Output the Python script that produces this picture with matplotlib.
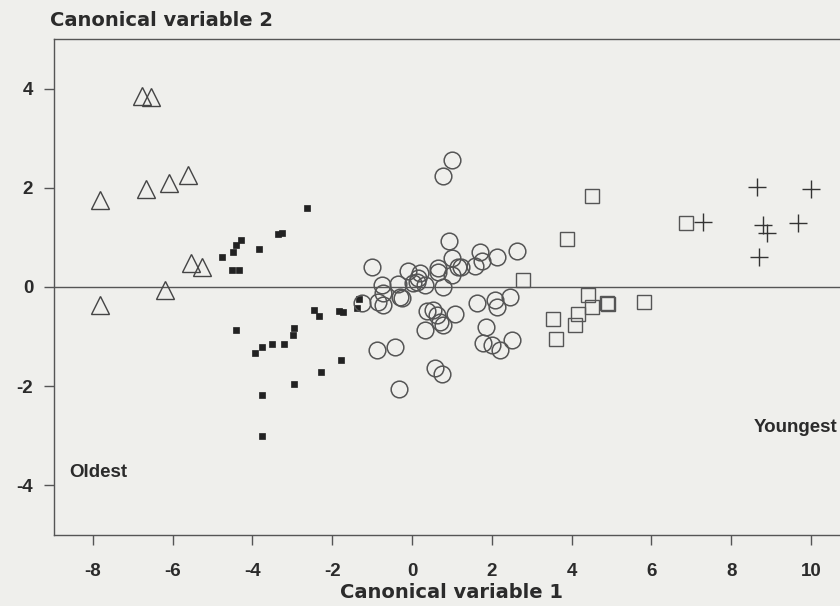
import numpy as np
import matplotlib
matplotlib.use("Agg")
import matplotlib.pyplot as plt

# Data (canonical variable 1, canonical variable 2)
# Oldest group - open triangles
tri_x = [-6.77, -6.54, -7.82, -6.67, -6.09, -5.61, -5.54, -5.26, -6.19, -7.82]
tri_y = [3.86, 3.84, 1.75, 1.97, 2.09, 2.25, 0.48, 0.40, -0.06, -0.36]

# small filled squares
dot_x = [-2.62, -3.37, -3.27, -4.29, -4.42, -4.48, -3.83, -4.75, -4.52, -4.34,
         -1.32, -1.39, -2.46, -2.32, -1.84, -1.74, -4.42, -2.96, -2.97, -3.21,
         -3.51, -3.77, -3.93, -1.77, -2.28, -2.96, -3.77, -3.75]
dot_y = [1.60, 1.06, 1.09, 0.95, 0.85, 0.71, 0.76, 0.60, 0.34, 0.34,
         -0.25, -0.43, -0.46, -0.58, -0.48, -0.50, -0.87, -0.82, -0.97, -1.15,
         -1.15, -1.21, -1.34, -1.48, -1.72, -1.95, -2.17, -3.00]

# open circles
circ_x = [0.99, 0.78, 0.93, 0.99, 1.70, 1.75, 2.12, 2.64, 1.23, 1.57,
          0.99, 0.64, 0.66, -0.09, 0.20, 0.16, 0.03, 0.12, 0.33, 0.78,
          -0.30, -0.26, 0.37, 0.53, 0.62, 1.08, 0.70, 0.78, 0.33, 1.62,
          2.08, 2.12, 2.46, 1.85, 1.79, 2.00, 2.21, 2.50, 0.58, 0.74,
          -0.32, -0.88, -0.43, -1.01, -0.76, -0.34, -0.72, -1.26, -0.84, -0.72,
          1.15]
circ_y = [2.56, 2.24, 0.93, 0.59, 0.71, 0.53, 0.61, 0.73, 0.41, 0.42,
          0.24, 0.38, 0.31, 0.33, 0.28, 0.18, 0.07, 0.10, 0.04, -0.01,
          -0.20, -0.23, -0.49, -0.46, -0.56, -0.54, -0.70, -0.76, -0.87, -0.33,
          -0.27, -0.41, -0.20, -0.80, -1.13, -1.17, -1.27, -1.07, -1.64, -1.75,
          -2.06, -1.27, -1.22, 0.40, 0.04, 0.06, -0.13, -0.33, -0.30, -0.36,
          0.41]

# open squares
sq_x = [4.50, 3.88, 6.86, 2.79, 4.42, 4.50, 4.17, 4.88, 4.90, 5.82, 3.54, 4.09, 3.60]
sq_y = [1.84, 0.96, 1.29, 0.14, -0.17, -0.41, -0.54, -0.32, -0.35, -0.31, -0.65, -0.76, -1.05]

# Youngest group - plus signs
plus_x = [8.64, 9.99, 7.29, 8.80, 8.89, 9.68, 8.70]
plus_y = [2.02, 1.97, 1.31, 1.25, 1.09, 1.28, 0.61]

xticks = [-8, -6, -4, -2, 0, 2, 4, 6, 8, 10]
yticks = [-4, -2, 0, 2, 4]

ink = '#2b2b2b'
paper = '#efefec'
plt.rcParams['font.family'] = ['Liberation Sans', 'DejaVu Sans']
plt.rcParams['axes.unicode_minus'] = False

fig = plt.figure(figsize=(8.4, 6.06), dpi=100, facecolor=paper)
ax = fig.add_axes([0.0643, 0.1172, 0.9417, 0.8185], facecolor=paper)

ax.axhline(0, color='#555555', lw=1.0, zorder=1)

ax.plot(tri_x, tri_y, ls='none', marker='^', ms=12.5, mfc='none', mec='#444444', mew=1.0)
ax.plot(dot_x, dot_y, ls='none', marker='s', ms=3.8, mfc='#222222', mec='#222222', mew=0.5)
ax.plot(circ_x, circ_y, ls='none', marker='o', ms=12, mfc='none', mec='#555555', mew=1.1)
ax.plot(sq_x, sq_y, ls='none', marker='s', ms=10, mfc='none', mec='#555555', mew=1.0)
ax.plot(plus_x, plus_y, ls='none', marker='+', ms=13, mec='#333333', mew=1.0)

ax.set_xlim(-8.97, 10.85)
ax.set_ylim(-5, 5)
ax.set_xticks(xticks)
ax.set_yticks(yticks)
ax.tick_params(direction='out', length=7, width=1, colors='#555555',
               labelcolor=ink, labelsize=13.5)
ax.tick_params(axis='x', pad=13)
ax.tick_params(axis='y', pad=8)
for lbl in ax.get_xticklabels() + ax.get_yticklabels():
    lbl.set_fontweight('bold')
ax.spines['right'].set_visible(False)
for s in ['left', 'top', 'bottom']:
    ax.spines[s].set_color('#555555')
    ax.spines[s].set_linewidth(1.0)

ax.text(-8.6, -3.75, 'Oldest', fontsize=13.5, fontweight='bold', color=ink, va='center')
ax.text(10.65, -2.84, 'Youngest', fontsize=13.5, fontweight='bold', color=ink, va='center', ha='right')

fig.text(50 / 840, 1 - 20 / 606, 'Canonical variable 2', fontsize=14, fontweight='bold',
         family='DejaVu Sans', color=ink, va='center', ha='left')
fig.text(452 / 840, 1 - 592 / 606, 'Canonical variable 1', fontsize=14, fontweight='bold',
         family='DejaVu Sans', color=ink, va='center', ha='center')

fig.savefig('out.png', dpi=100, facecolor=paper)
